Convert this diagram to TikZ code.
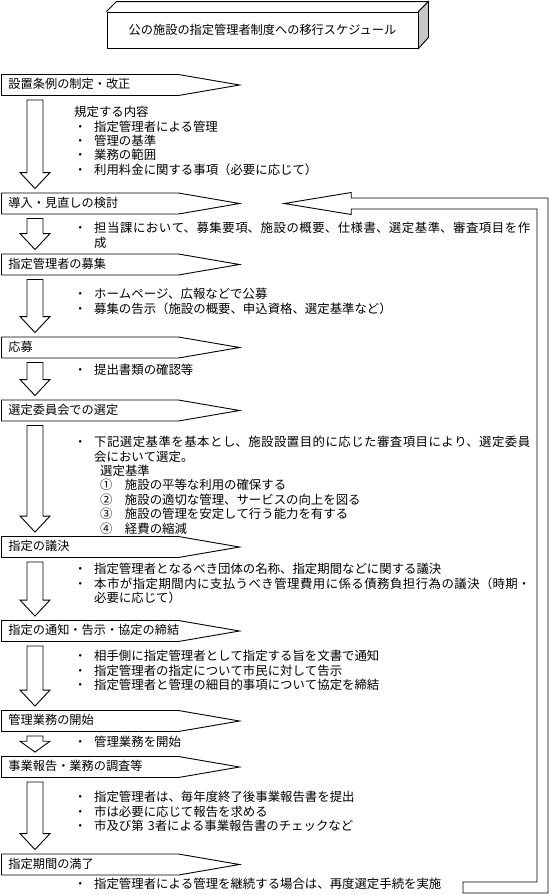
\documentclass[tikz,border=0pt]{standalone}
\usepackage{fontspec}
\setmainfont{Noto Sans CJK JP}
\usepackage{tikz}
\usetikzlibrary{shapes.symbols,calc}

\newcommand{\bulletmark}{\makebox[20pt][l]{・}}
% hollow block arrow from one stage down to the next
\newcommand{\flowarrow}[2]{%
  \draw[blockarrow] let \p1=(#1.south), \p2=(#2.north), \p3=(#1.west),
      \n1={min(16,0.45*(\y1-\y2))} in
    (\x3+26pt,\y1-4pt) -- (\x3+42pt,\y1-4pt) -- (\x3+42pt,\y2+4pt+\n1) -- (\x3+49pt,\y2+4pt+\n1)
    -- (\x3+34pt,\y2+4pt) -- (\x3+19pt,\y2+4pt+\n1) -- (\x3+26pt,\y2+4pt+\n1) -- cycle;}

\begin{document}
\begin{tikzpicture}[x=1pt,y=-1pt,
    stage/.style={signal, signal to=east, signal pointer angle=19.5, draw, line width=0.9pt,
      anchor=west, text width=163pt, align=left, inner xsep=7pt, inner ysep=4.5pt,
      text height=9.5pt, text depth=2.5pt, minimum height=21pt, font=\fontsize{12.2}{14}\selectfont},
    body/.style={anchor=base west, text width=456pt, align=left, inner sep=0pt,
      font=\fontsize{12.4}{14.4}\selectfont},
    just/.style={body, align=justify,
      execute at begin node={\XeTeXlinebreaklocale "ja"\XeTeXlinebreakskip=0pt plus 2pt}},
    blockarrow/.style={draw, line width=0.9pt, fill=white, line join=miter},
    titlebox/.style={draw, line width=0.9pt, minimum width=311pt, minimum height=36pt,
      inner sep=0pt, font=\fontsize{12.2}{14}\selectfont}]
    \useasboundingbox (0,0) rectangle (550,895);

    % title
    \node[titlebox] (title) at (262.5,30) {公の施設の指定管理者制度への移行スケジュール};
    \draw[line width=0.9pt] (title.north west) -- ++(10pt,10pt) -- ([shift={(10pt,10pt)}]title.north east) -- (title.north east);
    \filldraw[line width=0.9pt, fill=gray!45] (title.north east) -- ++(10pt,10pt) -- ++(0pt,-36pt) -- (title.south east) -- cycle;

    % stages
    \node[stage] (s1) at (1,85) {設置条例の制定・改正};
    \node[stage] (s2) at (1,203.5) {導入・見直しの検討};
    \node[stage] (s3) at (1,264.5) {指定管理者の募集};
    \node[stage] (s4) at (1,347.5) {応募};
    \node[stage] (s5) at (1,410.5) {選定委員会での選定};
    \node[stage] (s6) at (1,547) {指定の議決};
    \node[stage] (s7) at (1,631) {指定の通知・告示・協定の締結};
    \node[stage] (s8) at (1,721) {管理業務の開始};
    \node[stage] (s9) at (1,767) {事業報告・業務の調査等};
    \node[stage] (s10) at (1,864.5) {指定期間の満了};

    \flowarrow{s1}{s2}
    \flowarrow{s2}{s3}
    \flowarrow{s3}{s4}
    \flowarrow{s4}{s5}
    \flowarrow{s5}{s6}
    \flowarrow{s6}{s7}
    \flowarrow{s7}{s8}
    \flowarrow{s8}{s9}
    \flowarrow{s9}{s10}

    % notes
    \node[body] (n1) at (74,116.7) {規定する内容\\\bulletmark 指定管理者による管理\\\bulletmark 管理の基準\\\bulletmark 業務の範囲\\\bulletmark 利用料金に関する事項（必要に応じて）};
    \node[just] (n2) at (74,232.7) {\bulletmark 担当課において、募集要項、施設の概要、仕様書、選定基準、審査項目を作\linebreak\hspace*{20pt}成};
    \node[body] (n3) at (74,298.7) {\bulletmark ホームページ、広報などで公募\\\bulletmark 募集の告示（施設の概要、申込資格、選定基準など）};
    \node[body] (n4) at (74,374.7) {\bulletmark 提出書類の確認等};
    \node[just] (n5) at (74,446.7) {\bulletmark 下記選定基準を基本とし、施設設置目的に応じた審査項目により、選定委員\linebreak\hspace*{20pt}会において選定。\\
      \hspace*{26pt}選定基準\\
      \hspace*{26pt}①\hspace{12.4pt}施設の平等な利用の確保する\\
      \hspace*{26pt}②\hspace{12.4pt}施設の適切な管理、サービスの向上を図る\\
      \hspace*{26pt}③\hspace{12.4pt}施設の管理を安定して行う能力を有する\\
      \hspace*{26pt}④\hspace{12.4pt}経費の縮減};
    \node[just] (n6) at (74,573.7) {\bulletmark 指定管理者となるべき団体の名称、指定期間などに関する議決\\
      \bulletmark 本市が指定期間内に支払うべき管理費用に係る債務負担行為の議決（時期・\linebreak\hspace*{20pt}必要に応じて）};
    \node[body] (n7) at (74,660.7) {\bulletmark 相手側に指定管理者として指定する旨を文書で通知\\\bulletmark 指定管理者の指定について市民に対して告示\\\bulletmark 指定管理者と管理の細目的事項について協定を締結};
    \node[body] (n8) at (74,746.7) {\bulletmark 管理業務を開始};
    \node[body] (n9) at (74,801.7) {\bulletmark 指定管理者は、毎年度終了後事業報告書を提出\\\bulletmark 市は必要に応じて報告を求める\\\bulletmark 市及び第 3者による事業報告書のチェックなど};
    \node[body] (n10) at (74,888.7) {\bulletmark 指定管理者による管理を継続する場合は、再度選定手続を実施};

    % back to the review stage
    \coordinate (back) at (463,887.5);
    \draw[blockarrow] let \p1=(s2.east), \p2=(back) in
      (\x1+42pt,\y1) -- (\x1+109pt,\y1+11pt) -- (\x1+109pt,\y1+5.5pt) -- (\x2+85pt,\y1+5.5pt)
      -- (\x2+85pt,\y2-5.5pt) -- (\x2,\y2-5.5pt) -- (\x2,\y2+5.5pt) -- (\x2+74pt,\y2+5.5pt)
      -- (\x2+74pt,\y1-5.5pt) -- (\x1+109pt,\y1-5.5pt) -- (\x1+109pt,\y1-11pt) -- cycle;
\end{tikzpicture}
\end{document}
